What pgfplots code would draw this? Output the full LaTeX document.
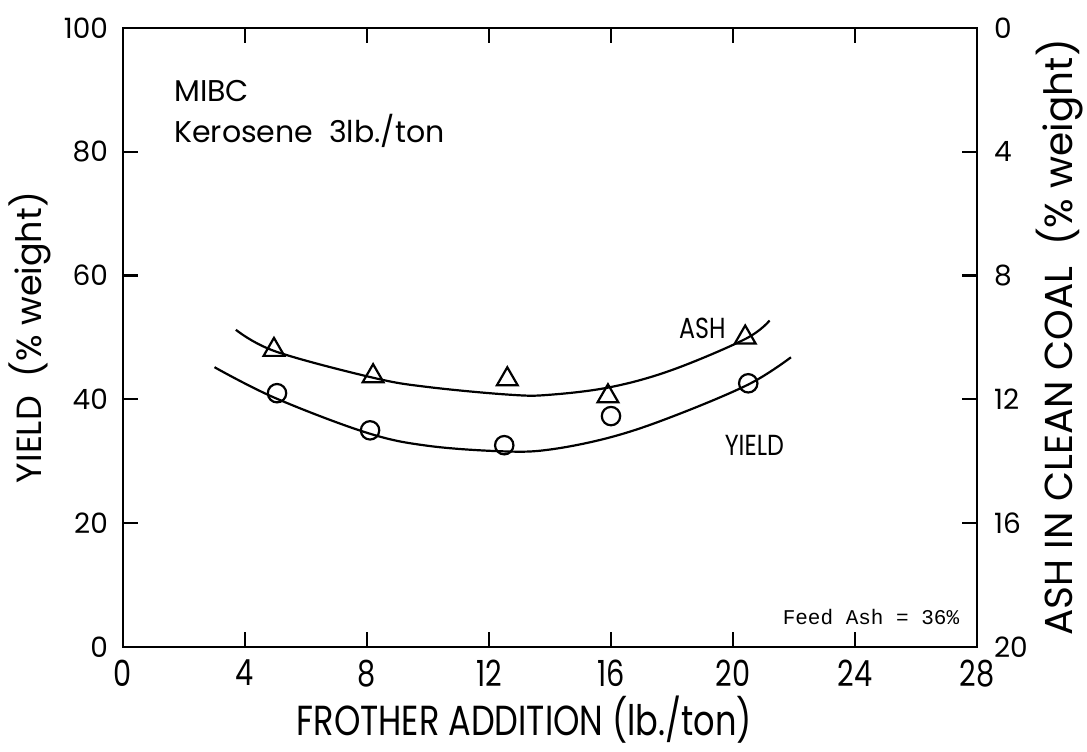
\documentclass[border=0pt]{standalone}
\usepackage{fontspec}
\setmainfont{Poppins}
\newfontfamily\cond{Poppins}[FakeStretch=0.8]
\newfontfamily\semicond{Poppins}[FakeStretch=0.82]
\newfontfamily\mono{Liberation Mono}
\usepackage{pgfplots}
\pgfplotsset{compat=1.18}
\usetikzlibrary{calc}

\pgfplotstableread{
x y
5.05 41.0
8.1 35.0
12.5 32.6
16.0 37.3
20.5 42.6
}\yieldpts
\pgfplotstableread{
x y
3.0 45.2
5.0 40.2
8.0 34.6
10.0 32.5
12.5 31.6
14.0 31.9
16.0 33.9
18.0 37.2
20.5 42.4
21.9 46.8
}\yieldcurve
\pgfplotstableread{
x a
4.95 10.4
8.2 11.25
12.6 11.35
15.9 11.9
20.4 10.0
}\ashpts
\pgfplotstableread{
x a
3.7 9.75
5.0 10.45
8.2 11.3
10.0 11.6
12.7 11.85
14.0 11.85
16.0 11.6
18.0 11.05
20.4 10.05
21.2 9.45
}\ashcurve

\begin{document}
\begin{tikzpicture}
\begin{axis}[
  scale only axis, width=427pt, height=309.5pt, clip=false,
  axis line style={line width=1.1pt},
  /pgf/number format/assume math mode=true,
  xmin=0,xmax=28,ymin=0,ymax=100,
  xtick={0,4,...,28}, ytick={0,20,...,100},
  xtick pos=both, ytick pos=left,
  xtick align=inside, ytick align=inside,
  major tick length=7.5pt,
  every major tick/.append style={line width=1.1pt, black},
  xticklabel style={font=\cond\fontsize{18}{18}\selectfont, yshift=-3pt},
  yticklabel style={font=\fontsize{14}{14}\selectfont, xshift=-4pt},
  xlabel={FROTHER ADDITION (lb./ton)},
  xlabel style={font=\cond\fontsize{21}{21}\selectfont, at={(axis description cs:0.47,-0.118)}, anchor=center},
  ylabel={YIELD\ \ (\% weight)},
  ylabel style={font=\fontsize{17.5}{17.5}\selectfont, at={(axis description cs:-0.109,0.5)}, anchor=center},
]
\coordinate (bl) at (rel axis cs:0,0);
\coordinate (tr) at (rel axis cs:1,1);
\pgfplotsinvokeforeach{4,8,12,16,20,24}{
  \draw[line width=1.1pt, black] (axis cs:#1,0) -- ++(0pt,7.5pt);
  \draw[line width=1.1pt, black] (axis cs:#1,100) -- ++(0pt,-7.5pt);
}
\addplot[black, line width=1.1pt, smooth, tension=0.6] table[x=x,y=y]{\yieldcurve};
\addplot[only marks, mark=o, mark size=4.6pt, mark options={fill=white, line width=1.1pt, black}] table[x=x,y=y]{\yieldpts};
\node[anchor=base west, font=\fontsize{15}{15}\selectfont] at (axis cs:1.45,88.2) {MIBC};
\node[anchor=base west, font=\fontsize{15}{15}\selectfont] at (axis cs:1.45,81.5) {Kerosene\ \ 3lb./ton};
\node[anchor=base west, font=\semicond\fontsize{14.5}{14.5}\selectfont] at (axis cs:18.0,49.8) {ASH};
\node[anchor=base west, font=\semicond\fontsize{14.5}{14.5}\selectfont] at (axis cs:19.5,30.9) {YIELD};
\node[anchor=base west, font=\mono\fontsize{10.5}{10.5}\selectfont] at (axis cs:21.4,3.6) {Feed Ash = 36\%};
\end{axis}
\begin{axis}[
  scale only axis, width=427pt, height=309.5pt, clip=false,
  axis line style={line width=1.1pt},
  /pgf/number format/assume math mode=true,
  xmin=0,xmax=28,ymin=0,ymax=20, y dir=reverse,
  axis x line=none, axis y line*=right,
  ytick={0,4,...,20}, ytick align=inside, major tick length=7.5pt,
  every major tick/.append style={line width=1.1pt, black},
  yticklabel style={font=\fontsize{14}{14}\selectfont, xshift=5pt},
  ylabel={ASH IN CLEAN COAL\ \ (\% weight)},
  ylabel style={font=\fontsize{19.5}{19.5}\selectfont, at={(axis description cs:1.097,0.5)}, anchor=center},
]
\addplot[black, line width=1.1pt, smooth, tension=0.6] table[x=x,y=a]{\ashcurve};
\addplot[only marks, mark=triangle, mark size=6pt, mark options={fill=white, line width=1.1pt, black}] table[x=x,y=a]{\ashpts};
\end{axis}
\pgfresetboundingbox
\path ($(bl)+(-61.5pt,-52.5pt)$) rectangle ($(tr)+(55pt,14pt)$);
\end{tikzpicture}
\end{document}
